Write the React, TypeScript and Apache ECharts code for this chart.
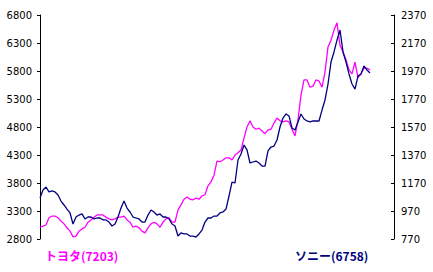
import React, { useEffect, useRef } from "react";
import * as echarts from "echarts";

const toyota: number[] = [
  3010, 3030, 3050, 3180, 3210, 3210, 3180, 3120, 3070, 3000,
  2940, 2840, 2850, 2940, 2980, 3010, 3100, 3140, 3190, 3230,
  3230, 3230, 3190, 3160, 3140, 3160, 3190, 3190, 3210, 3140,
  3100, 3010, 3030, 3000, 2940, 2910, 3000, 3070, 3100, 3070,
  3010, 3100, 3160, 3180, 3100, 3100, 3320, 3410, 3510, 3550,
  3510, 3500, 3530, 3510, 3570, 3590, 3750, 3820, 3940, 4190,
  4180, 4210, 4250, 4250, 4210, 4300, 4340, 4390, 4600, 4800,
  4910, 4800, 4760, 4780, 4730, 4680, 4750, 4760, 4870, 4960,
  4910, 4890, 4910, 4890, 4760, 4640, 4930, 5370, 5640, 5640,
  5510, 5530, 5640, 5620, 5510, 5780, 6230, 6350, 6530, 6660,
  6260, 6140, 6000, 5820, 5750, 5960, 5680, 5750, 5850, 5850,
  5820,
];

const sony: number[] = [
  1063, 1120, 1141, 1106, 1113, 1106, 1084, 1041, 1013, 984,
  956, 877, 927, 941, 949, 913, 927, 927, 913, 920,
  920, 906, 906, 891, 863, 877, 927, 991, 1041, 991,
  963, 927, 920, 913, 891, 891, 941, 977, 963, 941,
  949, 927, 927, 913, 877, 863, 791, 813, 806, 806,
  791, 791, 784, 806, 834, 891, 920, 920, 934, 934,
  956, 963, 984, 1077, 1177, 1170, 1334, 1377, 1441, 1406,
  1313, 1320, 1327, 1313, 1291, 1291, 1399, 1427, 1434, 1477,
  1570, 1634, 1663, 1649, 1563, 1549, 1606, 1663, 1627, 1613,
  1606, 1613, 1613, 1613, 1691, 1763, 1877, 2034, 2106, 2191,
  2263, 2106, 2034, 1949, 1877, 1841, 1934, 1949, 2006, 1977,
  1956,
];

const totalSlots = 119;
const categories: string[] = Array.from({ length: totalSlots }, (_, i) => String(i));

const toyotaLabel = "トヨタ(7203)";
const sonyLabel = "ソニー(6758)";

export default function App() {
  const ref = useRef<HTMLDivElement>(null);
  useEffect(() => {
    document.body.style.margin = "0";
    if (!ref.current) return;
    const chart = echarts.init(ref.current, null, { renderer: "svg" });
    const axisLabelStyle = {
      color: "#000",
      fontFamily: "DejaVu Sans",
      fontSize: 10,
      formatter: (v: number) => String(v),
    };
    chart.setOption({
      animation: false,
      backgroundColor: "#fff",
      grid: { left: 40, right: 39, top: 15, bottom: 33 },
      xAxis: {
        type: "category",
        data: categories,
        boundaryGap: false,
        show: false,
      },
      yAxis: [
        {
          type: "value",
          position: "left",
          min: 2800,
          max: 6800,
          interval: 500,
          axisLine: { show: true, lineStyle: { color: "#000", width: 1 } },
          axisTick: { show: true, inside: false, length: 3, lineStyle: { color: "#000" } },
          axisLabel: { ...axisLabelStyle, margin: 8 },
          splitLine: { show: false },
        },
        {
          type: "value",
          position: "right",
          min: 770,
          max: 2370,
          interval: 200,
          axisLine: { show: true, lineStyle: { color: "#000", width: 1 } },
          axisTick: { show: true, inside: true, length: 3, lineStyle: { color: "#000" } },
          axisLabel: { ...axisLabelStyle, margin: 7 },
          splitLine: { show: false },
        },
      ],
      series: [
        {
          name: "toyota",
          type: "line",
          yAxisIndex: 0,
          data: toyota,
          symbol: "none",
          lineStyle: { color: "#FF00FF", width: 1.3 },
          z: 2,
        },
        {
          name: "sony",
          type: "line",
          yAxisIndex: 1,
          data: sony,
          symbol: "none",
          lineStyle: { color: "#000080", width: 1.3 },
          z: 3,
        },
      ],
      graphic: [
        {
          type: "text",
          left: 45,
          top: 249,
          style: {
            text: toyotaLabel,
            fill: "#FF00FF",
            font: "bold 12px 'Noto Sans CJK JP'",
          },
        },
        {
          type: "text",
          left: 295,
          top: 249,
          style: {
            text: sonyLabel,
            fill: "#000080",
            font: "bold 12px 'Noto Sans CJK JP'",
          },
        },
      ],
    });
    return () => chart.dispose();
  }, []);
  return <div ref={ref} style={{ width: 433, height: 272 }} />;
}
